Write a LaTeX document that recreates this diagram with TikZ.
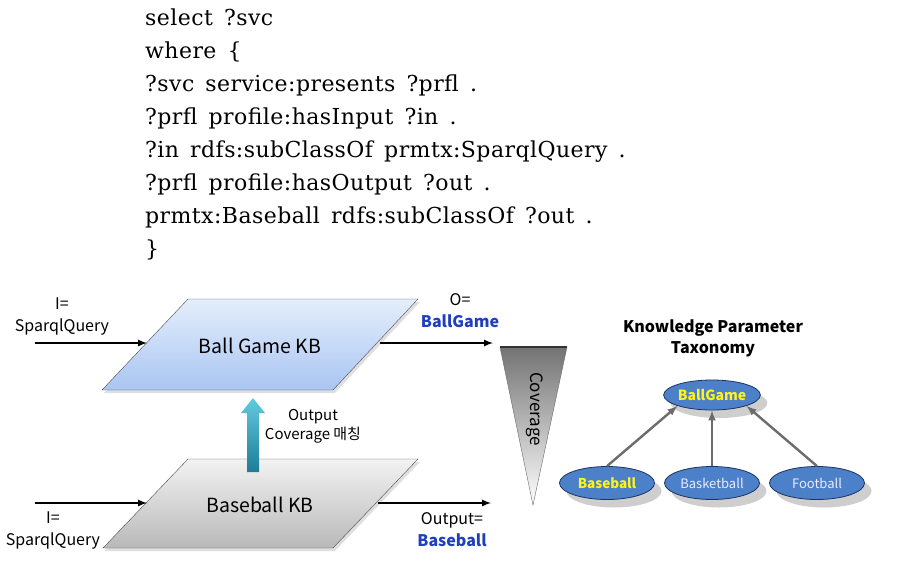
\documentclass[tikz,border=0pt]{standalone}
\usepackage{fontspec}
\setmainfont{DejaVu Serif}
\newfontfamily\krfont{Noto Sans CJK KR}
\newfontfamily\queryfont[LetterSpace=2, WordSpace=1.5]{DejaVu Serif}
\usepackage{tikz}
\usetikzlibrary{shapes,arrows,shadows}
\definecolor{kbblue}{HTML}{A9C5F2}
\definecolor{kbblueTop}{HTML}{E4EEFC}
\definecolor{nodeblue}{HTML}{4C80C8}
\definecolor{navy}{HTML}{1C3360}
\definecolor{labelblue}{HTML}{1F3FC0}
\definecolor{tealTop}{HTML}{62CBE0}
\definecolor{tealBot}{HTML}{1D7C96}
\tikzstyle{kb} = [draw=black!70, drop shadow={opacity=0.25, shadow xshift=2pt, shadow yshift=-3pt}]
\tikzstyle{kbtext} = [font=\krfont\fontsize{19.5}{22}\selectfont]
\tikzstyle{param} = [ellipse, draw=navy, line width=0.8pt, fill=nodeblue,
    minimum width=95pt, minimum height=33pt, inner sep=0pt,
    font=\krfont\fontsize{13}{15}\selectfont,
    drop shadow={fill=gray!70, opacity=0.55, shadow xshift=7pt, shadow yshift=-8pt}]
\tikzstyle{lbl} = [align=center, font=\krfont\fontsize{16}{22}\selectfont]
\tikzstyle{line} = [draw, line width=2pt, -latex]
\tikzstyle{isa} = [draw, gray!85!black, line width=2.4pt, -latex]

\begin{document}
\begin{tikzpicture}[x=1pt, y=-1pt]
    \useasboundingbox (0,0) rectangle (897,566);
    % Query text
    \node [anchor=north west, align=left, inner sep=0pt,
        font=\queryfont\fontsize{22}{33}\selectfont] (query) at (145,9) {select ?svc\\
where \{\\
?svc service:presents ?prfl .\\
?prfl profile:hasInput ?in .\\
?in rdfs:subClassOf prmtx:SparqlQuery .\\
?prfl profile:hasOutput ?out .\\
prmtx:Baseball rdfs:subClassOf ?out .\\
\}};
    % Knowledge bases
    \shade [kb, top color=kbblueTop, bottom color=kbblue]
        (188,299) -- (418,299) -- (333,390) -- (102,390) -- cycle;
    \shade [kb, top color=gray!10, bottom color=gray!55]
        (188,459) -- (418,459) -- (333,548) -- (103,548) -- cycle;
    % Place nodes
    \node [kbtext] (ballkb) at (260,346) {Ball Game KB};
    \node [kbtext] (basekb) at (260,505) {Baseball KB};
    \coordinate (ballkbIn) at (147,343);
    \coordinate (ballkbOut) at (380,343);
    \coordinate (basekbIn) at (147,503);
    \coordinate (basekbOut) at (378,503);
    \coordinate (inTop) at (35,343);
    \coordinate (outTop) at (493,343);
    \coordinate (inBot) at (35,503);
    \coordinate (outBot) at (491,503);
    \node [lbl] (inTopLbl) at (62,316) {I=\\SparqlQuery};
    \node [lbl] (outTopLbl) at (460,311) {O=\\\textcolor{labelblue}{\bfseries BallGame}};
    \node [lbl] (inBotLbl) at (53,530) {I=\\SparqlQuery};
    \node [lbl] (outBotLbl) at (452,530) {Output=\\\textcolor{labelblue}{\bfseries Baseball}};
    \node [lbl, font=\krfont\fontsize{15}{19}\selectfont] (matchLbl) at (313,426) {Output\\Coverage 매칭};
    % Coverage wedge
    \shade [top color=gray!90!black, bottom color=white, draw=black!60]
        (500,347) -- (567,347) -- (533,505) -- cycle;
    \draw [line width=1.5pt, black!80] (500,347) -- (567,347);
    \node [rotate=-90, font=\krfont\fontsize{17}{19}\selectfont] (cover) at (535,409) {Coverage};
    % Taxonomy
    \node [align=center, font=\krfont\bfseries\fontsize{16}{21}\selectfont] (taxTitle) at (713,338)
        {Knowledge Parameter\\Taxonomy};
    \node [param, minimum width=94pt, minimum height=30pt, text=yellow!90!white, font=\krfont\bfseries\fontsize{14}{16}\selectfont] (ballgame) at (712,395) {BallGame};
    \node [param, text=yellow!90!white, font=\krfont\bfseries\fontsize{13.5}{15}\selectfont] (baseball) at (607,483) {Baseball};
    \node [param, text=blue!8!white] (basketball) at (712,483) {Basketball};
    \node [param, text=blue!8!white] (football) at (817,483) {Football};
    % Draw edges
    \path [line] (inTop) -- (ballkbIn);
    \path [line] (ballkbOut) -- (outTop);
    \path [line] (inBot) -- (basekbIn);
    \path [line] (basekbOut) -- (outBot);
    \shade [top color=tealTop, bottom color=tealBot]
        (247,472) -- (247,413) -- (241,413) -- (253,398) -- (265,413) -- (259,413) -- (259,472) -- cycle;
    \path [isa] (baseball.north) -- (ballgame.south west);
    \path [isa] (basketball.north) -- (ballgame.south);
    \path [isa] (football.north) -- (ballgame.south east);
\end{tikzpicture}
\end{document}
